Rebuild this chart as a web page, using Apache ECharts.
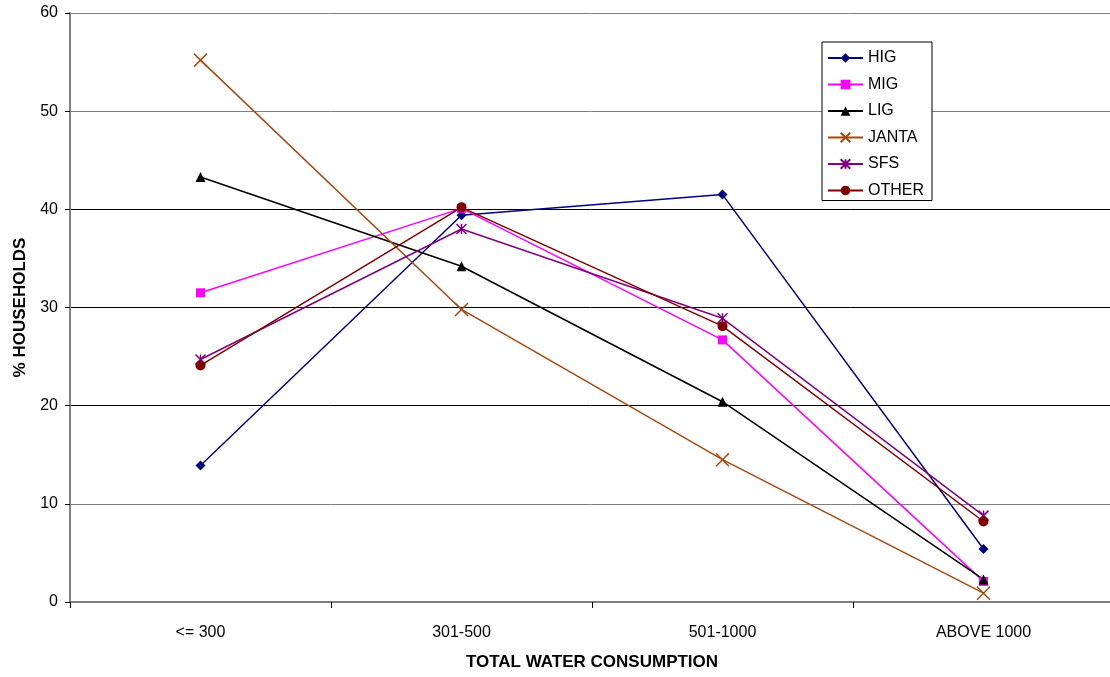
<!DOCTYPE html>
<html>
<head>
<meta charset="utf-8">
<script src="https://cdn.jsdelivr.net/npm/echarts@6/dist/echarts.min.js"></script>
<style>
html,body{margin:0;padding:0;background:#fff;}
#c{width:1110px;height:677px;}
</style>
</head>
<body>
<div id="c"></div>
<script>
var categories = ['<= 300', '301-500', '501-1000', 'ABOVE 1000'];
var hig   = [13.9, 39.4, 41.5, 5.4];
var mig   = [31.5, 40.1, 26.7, 2.1];
var lig   = [43.3, 34.2, 20.4, 2.3];
var janta = [55.2, 29.8, 14.5, 0.9];
var sfs   = [24.7, 38.0, 28.9, 8.8];
var other = [24.1, 40.2, 28.1, 8.2];
var seriesNames = ['HIG', 'MIG', 'LIG', 'JANTA', 'SFS', 'OTHER'];

var colors = ['#000080', '#FF00FF', '#000000', '#A8480E', '#800080', '#800000'];
var symbols = ['diamond', 'rect', 'triangle',
  'path://M0,0 L10,10 M10,0 L0,10',
  'path://M0,0 L10,10 M10,0 L0,10 M5,0 L5,10',
  'circle'];
var sizes = [10, 9, 10, 13, 10, 10];
var datas = [hig, mig, lig, janta, sfs, other];

var series = seriesNames.map(function (n, i) {
  var isPath = symbols[i].indexOf('path://') === 0;
  return {
    name: n,
    type: 'line',
    data: datas[i],
    symbol: symbols[i],
    symbolSize: sizes[i],
    showAllSymbol: true,
    lineStyle: { color: colors[i], width: 1.5 },
    itemStyle: isPath ? { color: 'rgba(0,0,0,0)', borderColor: colors[i], borderWidth: 1.5 }
                      : { color: colors[i], borderWidth: 0 },
    emphasis: { disabled: true },
    animation: false
  };
});

var FONT = 'Liberation Sans, Arial';
var chart = echarts.init(document.getElementById('c'));
chart.setOption({
  backgroundColor: '#fff',
  animation: false,
  grid: { left: 70, top: 13, width: 1044, bottom: 75, containLabel: false, outerBoundsMode: 'none' },
  legend: {
    data: seriesNames,
    orient: 'vertical',
    left: 822,
    top: 42,
    itemWidth: 35,
    itemHeight: 12,
    itemGap: 10.5,
    padding: [8, 8, 2, 5],
    borderColor: '#000',
    borderWidth: 1,
    backgroundColor: '#fff',
    textStyle: { fontFamily: FONT, fontSize: 16, color: '#000' }
  },
  xAxis: {
    type: 'category',
    data: categories,
    boundaryGap: true,
    name: 'TOTAL WATER CONSUMPTION',
    nameLocation: 'middle',
    nameGap: 52,
    nameTextStyle: { fontFamily: FONT, fontSize: 17, fontWeight: 'bold', color: '#000' },
    axisLine: { lineStyle: { color: '#808080', width: 2 } },
    axisTick: { show: true, length: 6, lineStyle: { color: '#000' }, alignWithLabel: false },
    axisLabel: { fontFamily: FONT, fontSize: 16, color: '#000', margin: 23 },
    splitLine: { show: false }
  },
  yAxis: {
    type: 'value',
    min: 0,
    max: 60,
    interval: 10,
    name: '% HOUSEHOLDS',
    nameLocation: 'middle',
    nameGap: 39,
    nameRotate: 90,
    nameTextStyle: { fontFamily: FONT, fontSize: 17, fontWeight: 'bold', color: '#000' },
    axisLine: { show: true, lineStyle: { color: '#808080', width: 2 } },
    axisTick: { show: true, length: 5, lineStyle: { color: '#000' } },
    axisLabel: { fontFamily: FONT, fontSize: 16, color: '#000', margin: 12 },
    splitLine: { show: true, lineStyle: { color: ['#808080', '#808080', '#000', '#000', '#000', '#808080', '#808080'], width: 1 } }
  },
  series: series
});
</script>
</body>
</html>
